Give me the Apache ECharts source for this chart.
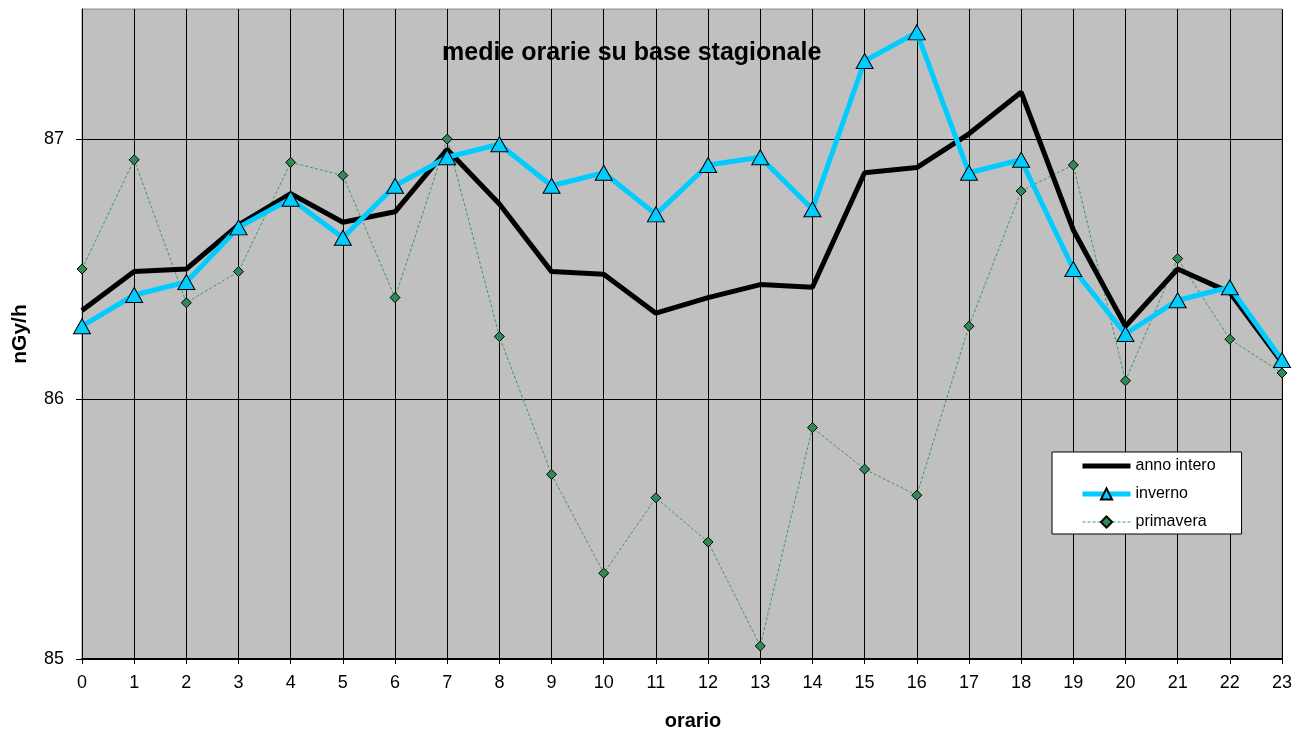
<!DOCTYPE html>
<html>
<head>
<meta charset="utf-8">
<script src="https://cdn.jsdelivr.net/npm/echarts@6/dist/echarts.min.js"></script>
<style>
  html, body { margin: 0; padding: 0; background: #fff; }
  #chart { width: 1301px; height: 736px; }
</style>
</head>
<body>
<div id="chart"></div>
<script>
const hours = ['0','1','2','3','4','5','6','7','8','9','10','11','12','13','14','15','16','17','18','19','20','21','22','23'];

const annoIntero = [86.34, 86.49, 86.50, 86.67, 86.79, 86.68, 86.72, 86.96, 86.75, 86.49, 86.48, 86.33,
                    86.39, 86.44, 86.43, 86.87, 86.89, 87.02, 87.18, 86.65, 86.28, 86.50, 86.41, 86.14];
const inverno = [86.28, 86.40, 86.45, 86.66, 86.77, 86.62, 86.82, 86.93, 86.98, 86.82, 86.87, 86.71,
                 86.90, 86.93, 86.73, 87.30, 87.41, 86.87, 86.92, 86.50, 86.25, 86.38, 86.43, 86.15];
const primavera = [86.50, 86.92, 86.37, 86.49, 86.91, 86.86, 86.39, 87.00, 86.24, 85.71, 85.33, 85.62,
                   85.45, 85.05, 85.89, 85.73, 85.63, 86.28, 86.80, 86.90, 86.07, 86.54, 86.23, 86.10];

const chart = echarts.init(document.getElementById('chart'));
const font = 'Liberation Sans, Arial, sans-serif';

chart.setOption({
  animation: false,
  textStyle: { fontFamily: font },
  title: {
    text: 'medie orarie su base stagionale',
    left: 437,
    top: 36,
    textStyle: { fontSize: 25, fontWeight: 'bold', color: '#000', fontFamily: font }
  },
  legend: {
    orient: 'vertical',
    left: 1052,
    top: 452,
    padding: [6, 26, 4, 28],
    itemGap: 12,
    itemWidth: 48,
    itemHeight: 14,
    backgroundColor: '#fff',
    borderColor: '#000',
    borderWidth: 1,
    borderRadius: 0,
    textStyle: { fontSize: 16, color: '#000', fontFamily: font },
    data: [
      { name: 'anno intero', lineStyle: { width: 5 }, itemStyle: { opacity: 0 } },
      { name: 'inverno', lineStyle: { width: 5 } },
      { name: 'primavera', lineStyle: { width: 1 } }
    ]
  },
  grid: {
    left: 82,
    right: 19,
    top: 9,
    bottom: 77,
    outerBoundsMode: 'none',
    show: true,
    backgroundColor: '#C0C0C0',
    borderColor: '#8c8c8c',
    borderWidth: 1
  },
  xAxis: {
    type: 'category',
    data: hours,
    boundaryGap: false,
    name: 'orario',
    nameLocation: 'middle',
    nameGap: 52,
    nameTextStyle: { fontSize: 20, fontWeight: 'bold', color: '#000', fontFamily: font, padding: [0, 0, 0, 22] },
    axisLine: { lineStyle: { color: '#000', width: 2 } },
    axisTick: { show: true, interval: 0, length: 5, lineStyle: { color: '#000' } },
    axisLabel: { interval: 0, fontSize: 18, color: '#000', margin: 15, fontFamily: font },
    splitLine: { show: true, interval: 0, lineStyle: { color: '#000', width: 1 } }
  },
  yAxis: {
    type: 'value',
    min: 85,
    max: 87.5,
    interval: 1,
    name: 'nGy/h',
    nameLocation: 'middle',
    nameGap: 51,
    nameTextStyle: { fontSize: 21, fontWeight: 'bold', color: '#000', fontFamily: font },
    axisLine: { show: true, lineStyle: { color: '#000', width: 1 } },
    axisTick: { show: true, length: 6, lineStyle: { color: '#000' } },
    axisLabel: { fontSize: 18, color: '#000', margin: 18, showMaxLabel: false, fontFamily: font },
    splitLine: { show: true, showMinLine: false, showMaxLine: false, lineStyle: { color: '#000', width: 1 } }
  },
  series: [
    {
      name: 'primavera',
      type: 'line',
      data: primavera,
      z: 2,
      symbol: 'diamond',
      symbolSize: 10,
      lineStyle: { color: '#3a9a66', width: 1, type: [3, 2] },
      itemStyle: { color: '#2e8b57', borderColor: '#000', borderWidth: 1 }
    },
    {
      name: 'anno intero',
      type: 'line',
      data: annoIntero,
      z: 3,
      showSymbol: false,
      symbol: 'none',
      lineStyle: { color: '#000', width: 5 },
      itemStyle: { color: '#000' }
    },
    {
      name: 'inverno',
      type: 'line',
      data: inverno,
      z: 4,
      symbol: 'triangle',
      symbolSize: [17, 15],
      lineStyle: { color: '#00ccff', width: 5 },
      itemStyle: { color: '#00ccff', borderColor: '#000', borderWidth: 1 }
    }
  ]
});
</script>
</body>
</html>
